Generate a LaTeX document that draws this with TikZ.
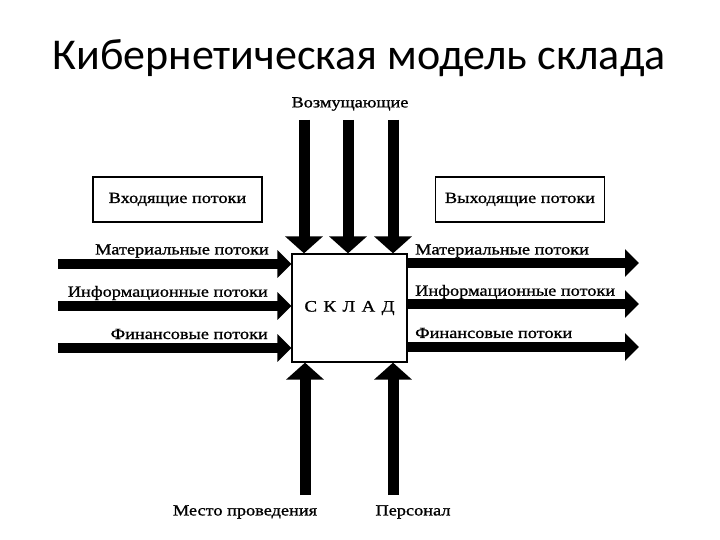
\documentclass[tikz,border=0pt]{standalone}
\usepackage{fontspec}
\setmainfont{Liberation Serif}
\newfontfamily\titlefont{Carlito}
\newfontfamily\scanfont[FakeStretch=1.18, FakeBold=1]{Liberation Serif}
\usetikzlibrary{arrows.meta,positioning}

\tikzset{
	flow/.style={line width=10pt, -{Triangle[width=27pt,length=14pt]}},
	bigflow/.style={line width=11pt, -{Triangle[width=37pt,length=17pt]}},
	lbl/.style={font=\scanfont\fontsize{15.5}{17}\selectfont, inner sep=0pt},
	framebox/.style={draw, line width=1.1pt, minimum width=169pt, minimum height=45pt, font=\scanfont\fontsize{15.5}{17}\selectfont}
}

\begin{document}
\begin{tikzpicture}[x=1pt, y=-1pt]
		\useasboundingbox (0,0) rectangle (720,540);
		\node[font=\titlefont\fontsize{44}{52}\selectfont] (title) at (359,58) {Кибернетическая модель склада};
		
		\node[draw, line width=1.3pt, minimum width=115pt, minimum height=108pt, font=\scanfont\fontsize{16}{18}\selectfont] (sklad) at (349.5,308) {С\hspace{0.4em}К\hspace{0.4em}Л\hspace{0.4em}А\hspace{0.4em}Д};
		\node[framebox] (vhod) at (177.5,199.5) {Входящие потоки};
		\node[framebox] (vyhod) at (520,199.5) {Выходящие потоки};
		
		% top
		\coordinate (D1) at (304,120);
		\coordinate (D2) at (348,120);
		\coordinate (D3) at (393,120);
		\draw[bigflow] (D1) -- (D1 |- sklad.north);
		\draw[bigflow] (D2) -- (D2 |- sklad.north);
		\draw[bigflow] (D3) -- (D3 |- sklad.north);
		\node[lbl] (dist) at (350,104) {Возмущающие};
		
		% bottom
		\coordinate (P1) at (305,495);
		\coordinate (P2) at (393,495);
		\draw[bigflow] (P1) -- (P1 |- sklad.south);
		\draw[bigflow] (P2) -- (P2 |- sklad.south);
		\node[lbl] (place) at (245,512) {Место проведения};
		\node[lbl] (staff) at (413,512) {Персонал};
		
		% inputs
		\coordinate (I1) at (58,264);
		\coordinate (I2) at (58,306);
		\coordinate (I3) at (58,348);
		\draw[flow] (I1) -- (I1 -| sklad.west);
		\draw[flow] (I2) -- (I2 -| sklad.west);
		\draw[flow] (I3) -- (I3 -| sklad.west);
		\node[lbl, anchor=east] (inmat) at (269,251) {Материальные потоки};
		\node[lbl, anchor=east] (ininf) at (268,293) {Информационные потоки};
		\node[lbl, anchor=east] (infin) at (268,334) {Финансовые потоки};
		
		% outputs
		\coordinate (O1) at (639,263);
		\coordinate (O2) at (639,304);
		\coordinate (O3) at (639,347);
		\draw[flow] (O1 -| sklad.east) -- (O1);
		\draw[flow] (O2 -| sklad.east) -- (O2);
		\draw[flow] (O3 -| sklad.east) -- (O3);
		\node[lbl, anchor=west] (outmat) at (415,251) {Материальные потоки};
		\node[lbl, anchor=west] (outinf) at (415,292) {Информационные потоки};
		\node[lbl, anchor=west] (outfin) at (415,333) {Финансовые потоки};
	\end{tikzpicture}
\end{document}
